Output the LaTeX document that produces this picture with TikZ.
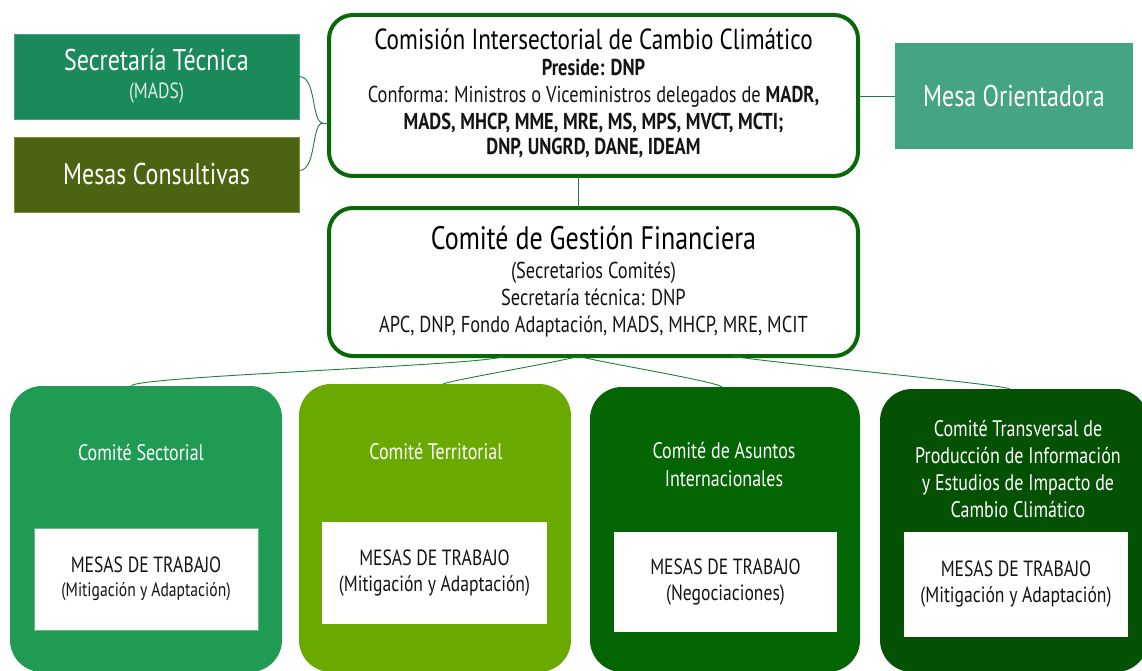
\documentclass[tikz,border=0pt]{standalone}
\usepackage{fontspec}
\setmainfont{PT Sans}[FakeStretch=0.8]
\definecolor{secC}{RGB}{27,138,90}
\definecolor{consC}{RGB}{76,100,17}
\definecolor{consB}{RGB}{120,140,60}
\definecolor{orientC}{RGB}{69,165,130}
\definecolor{borderC}{RGB}{8,104,8}
\definecolor{lineC}{RGB}{30,128,60}
\definecolor{sectC}{RGB}{32,155,83}
\definecolor{terrC}{RGB}{106,169,0}
\definecolor{asunC}{RGB}{3,101,3}
\definecolor{tranC}{RGB}{4,81,4}
\definecolor{txtC}{RGB}{20,20,20}
\begin{document}
\begin{tikzpicture}[x=1pt,y=-1pt,
  sidebox/.style={rectangle,inner sep=0,outer sep=0,text=white,align=center,font=\fontsize{30}{32}\selectfont},
  mainbox/.style={rectangle,rounded corners=24pt,draw=borderC,line width=4pt,fill=white,
     inner sep=0,outer sep=0,align=center,text=txtC,font=\fontsize{23}{27}\selectfont},
  combox/.style={rectangle,rounded corners=32pt,inner sep=0,outer sep=0},
  mesabox/.style={rectangle,fill=white,inner sep=0,outer sep=0,align=center,text=txtC,font=\fontsize{22}{26}\selectfont},
  ctitle/.style={text=white,align=center,inner sep=0,font=\fontsize{22.5}{27.3}\selectfont},
  conn/.style={draw=lineC,line width=0.9pt}]
\useasboundingbox (0,0) rectangle (1142,671);
\fill[white] (0,0) rectangle (1142,671);

% top side boxes
\node[sidebox,fill=secC,draw=secC!80!white,line width=0.6pt,minimum width=285pt,minimum height=85pt] (sec) at (156.5,76.5)
  {Secretaría Técnica\\[-4pt]{\fontsize{22}{24}\selectfont\color{white!85!secC}(MADS)}};
\node[sidebox,fill=consC,draw=consB,line width=0.8pt,minimum width=285pt,minimum height=75pt] (cons) at (156.5,174.5)
  {Mesas Consultivas};
\node[sidebox,fill=orientC,minimum width=238pt,minimum height=106pt] (orient) at (1014,96)
  {Mesa Orientadora};

% Comision
\node[mainbox,minimum width=529pt,minimum height=161pt] (comision) at (593.5,95.5) {};
\node[align=center,inner sep=0,text=txtC,font=\fontsize{23}{27}\selectfont] (comisionT) at (593.5,93.5)
  {{\fontsize{29}{30}\selectfont\color{black} Comisión Intersectorial de Cambio Climático}\\[-1pt]
   \textbf{Preside: DNP}\\
   Conforma: Ministros o Viceministros delegados de \textbf{MADR,}\\
   \textbf{MADS, MHCP, MME, MRE, MS, MPS, MVCT, MCTI;}\\[-2pt]
   \textbf{DNP, UNGRD, DANE, IDEAM}};

% Comite de Gestion
\node[mainbox,minimum width=529pt,minimum height=148pt] (gest) at (593.5,282)
  {{\fontsize{32.5}{34}\selectfont\color{black} Comité de Gestión Financiera}\\[2pt]
   (Secretarios Comités)\\
   Secretaría técnica: DNP\\
   APC, DNP, Fondo Adaptación, MADS, MHCP, MRE, MCIT};

% bottom committees
\node[combox,fill=sectC,minimum width=272pt,minimum height=286pt] (sect) at (146,529) {};
\node[combox,fill=terrC,minimum width=272pt,minimum height=288pt] (terr) at (435,528) {};
\node[combox,fill=asunC,minimum width=270pt,minimum height=285pt] (asun) at (725,529.5) {};
\node[combox,fill=tranC,minimum width=268pt,minimum height=283pt] (tran) at (1014,530.5) {};

\node[ctitle] (sectT) at (141,453) {Comité Sectorial};
\node[ctitle] (terrT) at (436,452) {Comité Territorial};
\node[ctitle] (asunT) at (724,464.5) {Comité de Asuntos\\Internacionales};
\node[ctitle] (tranT) at (1018,469) {Comité Transversal de\\Producción de Información\\y Estudios de Impacto de\\Cambio Climático};

\node[mesabox,draw=sectC!70!white,line width=0.6pt,minimum width=224pt,minimum height=102pt] (sectM) at (146,579)
  {MESAS DE TRABAJO\\[-2pt]{\fontsize{19.5}{24}\selectfont (Mitigación y Adaptación)}};
\node[mesabox,minimum width=225pt,minimum height=102pt] (terrM) at (434.5,573)
  {MESAS DE TRABAJO\\(Mitigación y Adaptación)};
\node[mesabox,minimum width=223pt,minimum height=100pt] (asunM) at (725.5,582)
  {MESAS DE TRABAJO\\(Negociaciones)};
\node[mesabox,minimum width=224pt,minimum height=105pt] (tranM) at (1016,584.5)
  {MESAS DE TRABAJO\\(Mitigación y Adaptación)};

% connectors
\coordinate (bj) at (323,123);
\draw[conn] (sec.east) .. controls +(18,0) and +(-12,0) .. (bj);
\draw[conn] ([yshift=4pt]cons.east) .. controls +(18,0) and +(-12,0) .. (bj);
\draw[conn] (bj) -- (comision.west |- bj);
\draw[conn] (comision.east |- orient.west) -- (orient.west);
\draw[conn] ([xshift=-15pt]comision.south) -- ([xshift=-15pt]gest.north);

\draw[conn] ([xshift=-90pt]gest.south) .. controls +(-6,9) and +(3,-10) .. ([xshift=-15pt]sect.north);
\draw[conn] ([xshift=-15pt]gest.south) .. controls +(-8,4) and +(8,-4) .. ([xshift=8pt]terr.north);
\draw[conn] ([xshift=-15pt]gest.south) .. controls +(8,4) and +(-6,-6) .. ([xshift=-3pt]asun.north);
\draw[conn] ([xshift=140pt]gest.south) .. controls +(8,4) and +(-8,-5) .. ([xshift=-4pt]tran.north);
\end{tikzpicture}
\end{document}
